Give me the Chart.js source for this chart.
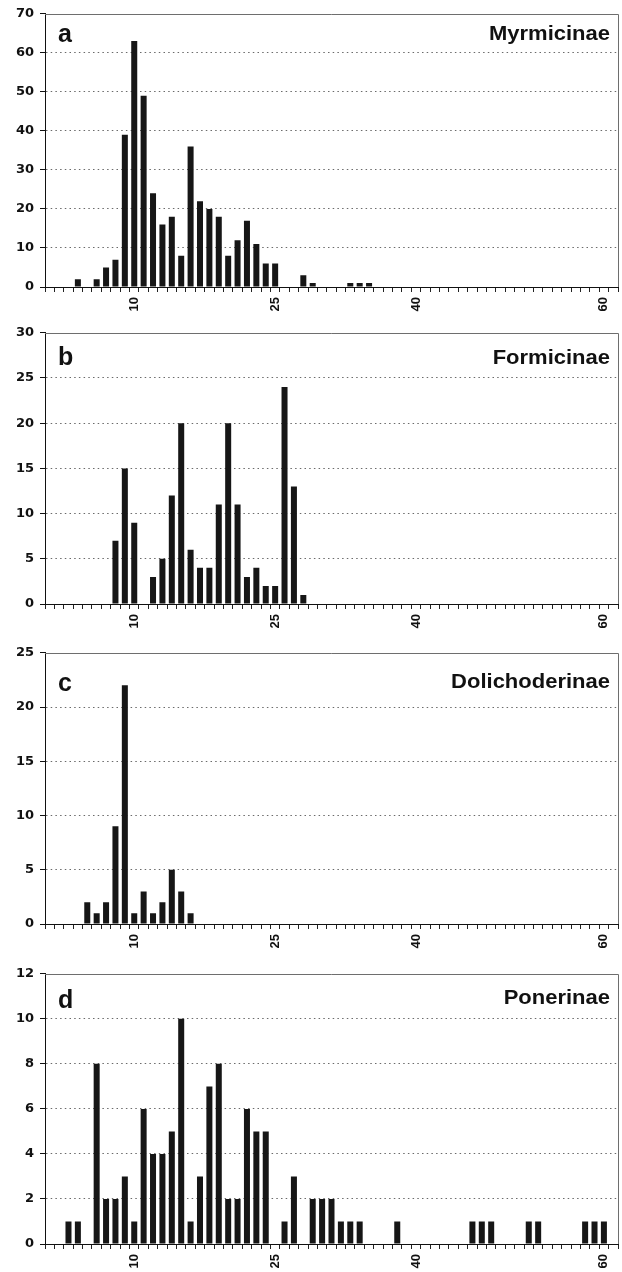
<!DOCTYPE html>
<html>
<head>
<meta charset="utf-8">
<script src="https://cdn.jsdelivr.net/npm/chart.js@4.4.1/dist/chart.umd.min.js"></script>
<style>
  html, body { margin: 0; padding: 0; background: #fff; }
  body { width: 622px; height: 1272px; position: relative; overflow: hidden; }
  .panel { position: absolute; left: 0; width: 622px; }
</style>
</head>
<body>
<div class="panel" style="top:0px;height:320px"><canvas id="chartA" width="622" height="320"></canvas></div>
<div class="panel" style="top:319px;height:318px"><canvas id="chartB" width="622" height="318"></canvas></div>
<div class="panel" style="top:639px;height:318px"><canvas id="chartC" width="622" height="318"></canvas></div>
<div class="panel" style="top:960px;height:312px"><canvas id="chartD" width="622" height="312"></canvas></div>
<script>
// categories 1..61, only a few get a label
const categories = [
  1, 2, 3, 4, 5, 6, 7, 8, 9, 10,
  11, 12, 13, 14, 15, 16, 17, 18, 19, 20,
  21, 22, 23, 24, 25, 26, 27, 28, 29, 30,
  31, 32, 33, 34, 35, 36, 37, 38, 39, 40,
  41, 42, 43, 44, 45, 46, 47, 48, 49, 50,
  51, 52, 53, 54, 55, 56, 57, 58, 59, 60,
  61
];
const tickLabels = [10, 25, 40, 60];

const myrmicinae = [
  0, 0, 0, 2, 0, 2, 5, 7, 39, 63,
  49, 24, 16, 18, 8, 36, 22, 20, 18, 8,
  12, 17, 11, 6, 6, 0, 0, 3, 1, 0,
  0, 0, 1, 1, 1, 0, 0, 0, 0, 0,
  0, 0, 0, 0, 0, 0, 0, 0, 0, 0,
  0, 0, 0, 0, 0, 0, 0, 0, 0, 0,
  0
];
const formicinae = [
  0, 0, 0, 0, 0, 0, 0, 7, 15, 9,
  0, 3, 5, 12, 20, 6, 4, 4, 11, 20,
  11, 3, 4, 2, 2, 24, 13, 1, 0, 0,
  0, 0, 0, 0, 0, 0, 0, 0, 0, 0,
  0, 0, 0, 0, 0, 0, 0, 0, 0, 0,
  0, 0, 0, 0, 0, 0, 0, 0, 0, 0,
  0
];
const dolichoderinae = [
  0, 0, 0, 0, 2, 1, 2, 9, 22, 1,
  3, 1, 2, 5, 3, 1, 0, 0, 0, 0,
  0, 0, 0, 0, 0, 0, 0, 0, 0, 0,
  0, 0, 0, 0, 0, 0, 0, 0, 0, 0,
  0, 0, 0, 0, 0, 0, 0, 0, 0, 0,
  0, 0, 0, 0, 0, 0, 0, 0, 0, 0,
  0
];
const ponerinae = [
  0, 0, 1, 1, 0, 8, 2, 2, 3, 1,
  6, 4, 4, 5, 10, 1, 3, 7, 8, 2,
  2, 6, 5, 5, 0, 1, 3, 0, 2, 2,
  2, 1, 1, 1, 0, 0, 0, 1, 0, 0,
  0, 0, 0, 0, 0, 1, 1, 1, 0, 0,
  0, 1, 1, 0, 0, 0, 0, 1, 1, 1,
  0
];

const yMaxes = [70, 30, 25, 12];
const ySteps = [10, 5, 5, 2];
const panelLetters = ['a', 'b', 'c', 'd'];
const panelNames = ['Myrmicinae', 'Formicinae', 'Dolichoderinae', 'Ponerinae'];

// grey frame on top and right + the panel captions
const framePlugin = {
  id: 'frame',
  afterDraw(chart, args, opts) {
    const { ctx, chartArea: a } = chart;
    ctx.save();
    ctx.strokeStyle = '#6e6e6e';
    ctx.lineWidth = 1;
    ctx.beginPath();
    ctx.moveTo(a.left, Math.round(a.top) + 0.5);
    ctx.lineTo(Math.round(a.right) + 0.5, Math.round(a.top) + 0.5);
    ctx.lineTo(Math.round(a.right) + 0.5, a.bottom);
    ctx.stroke();

    ctx.fillStyle = '#111';
    ctx.textBaseline = 'alphabetic';
    ctx.font = 'bold 25px "Liberation Sans", Arial, sans-serif';
    ctx.textAlign = 'left';
    ctx.fillText(opts.letter, opts.letterX, a.top + opts.letterY);

    ctx.translate(opts.nameX, a.top + opts.nameY);
    ctx.scale(1.1, 1);
    ctx.font = 'bold 20px "Liberation Sans", Arial, sans-serif';
    ctx.textAlign = 'right';
    ctx.fillText(opts.name, 0, 0);
    ctx.restore();
  }
};

function makePanel(id, values, i, xHeight, letterY, nameY) {
  const yMax = yMaxes[i];
  return new Chart(document.getElementById(id).getContext('2d'), {
    type: 'bar',
    data: {
      labels: categories,
      datasets: [{
        data: values,
        backgroundColor: '#161616',
        borderWidth: 0,
        barPercentage: 0.64,
        categoryPercentage: 1
      }]
    },
    options: {
      responsive: false,
      animation: false,
      events: [],
      layout: { padding: { top: 13, right: 4, left: 0, bottom: 0 } },
      plugins: {
        legend: { display: false },
        tooltip: { enabled: false },
        frame: {
          letter: panelLetters[i], letterX: 58, letterY: letterY,
          name: panelNames[i], nameX: 610, nameY: nameY
        }
      },
      scales: {
        x: {
          grid: {
            display: true,
            drawOnChartArea: false,
            drawTicks: true,
            tickLength: 5,
            color: '#222',
            offset: true
          },
          border: { color: '#111', width: 1 },
          ticks: {
            autoSkip: false,
            minRotation: 90,
            maxRotation: 90,
            padding: 5,
            color: '#111',
            font: { family: '"Liberation Sans", Arial, sans-serif', weight: 'bold', size: 13 },
            callback: (v, idx) => tickLabels.includes(categories[idx]) ? String(categories[idx]) : ''
          },
          afterFit: (s) => {
            s.height = xHeight;
            s.paddingLeft = 0;
            s.paddingRight = 0;
          }
        },
        y: {
          min: 0,
          max: yMax,
          ticks: {
            stepSize: ySteps[i],
            padding: 6,
            color: '#111',
            font: { family: '"DejaVu Sans", sans-serif', weight: 'bold', size: 13 }
          },
          grid: {
            color: (c) => (c.tick && (c.tick.value === 0 || c.tick.value === yMax)) ? 'rgba(0,0,0,0)' : '#6a6a6a',
            tickColor: '#111',
            tickLength: 5,
            lineWidth: 1
          },
          border: { color: '#111', width: 1, dash: [1.5, 3.2] },
          afterFit: (s) => { s.width = 45; }
        }
      }
    },
    plugins: [framePlugin]
  });
}

makePanel('chartA', myrmicinae, 0, 33, 28, 26);
makePanel('chartB', formicinae, 1, 33, 32, 31);
makePanel('chartC', dolichoderinae, 2, 33, 38, 35);
makePanel('chartD', ponerinae, 3, 28, 34, 30);
</script>
</body>
</html>
